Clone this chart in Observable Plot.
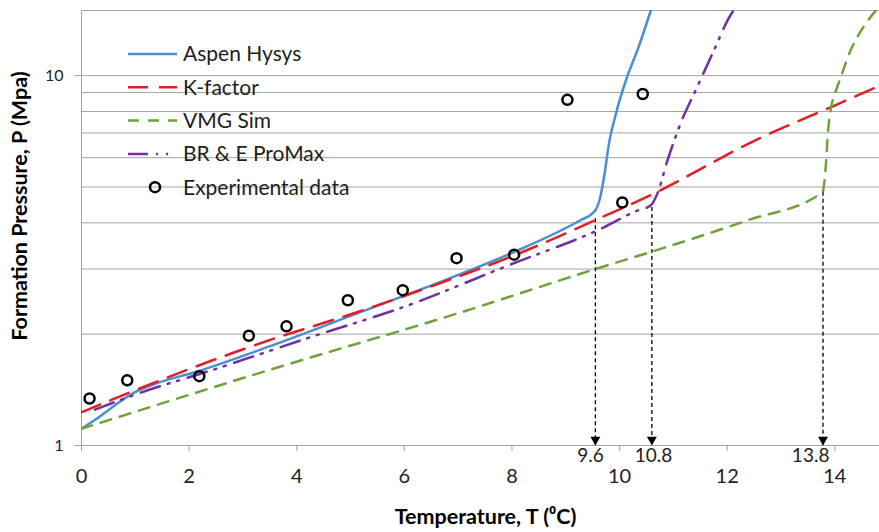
<!DOCTYPE html>
<html>
<head>
<meta charset="utf-8">
<script src="https://cdn.jsdelivr.net/npm/d3@7"></script>
<script src="https://cdn.jsdelivr.net/npm/@observablehq/plot@0.6"></script>
<style>
  body { margin: 0; background: #fff; }
  #chart { position: relative; width: 879px; height: 532px; font-family: Lato, "Open Sans", sans-serif; }
  #chart svg { display: block; }
  #legend { position: absolute; left: 0; top: 0; pointer-events: none; }
</style>
</head>
<body>
<div id="chart"></div>
<script>
// ---------- data ----------
const seriesNames = ["Aspen Hysys", "K-factor", "VMG Sim", "BR & E ProMax"];
const expName = "Experimental data";

const aspenT = [0, 0.24, 0.98, 1.38, 2.12, 3.61, 5.0, 7.05, 8.03, 9.28, 9.50, 9.58, 9.64, 9.72, 9.80, 9.93, 10.14, 10.33, 10.58];
const aspenP = [1.11, 1.17, 1.39, 1.47, 1.58, 1.88, 2.24, 2.91, 3.33, 4.07, 4.25, 4.40, 4.69, 5.42, 6.52, 7.87, 9.93, 11.7, 15];

const kfactorT = [0, 1.76, 3.46, 4.95, 7.05, 8.03, 9.52, 10.61, 12.6, 13.92, 14.83];
const kfactorP = [1.23, 1.56, 1.92, 2.25, 2.88, 3.26, 4.05, 4.78, 6.77, 8.21, 9.39];

const vmgT = [0, 3.61, 7.05, 9.55, 10.76, 12.37, 13.77, 13.83, 13.87, 13.92, 14.01, 14.11, 14.29, 14.45, 14.76];
const vmgP = [1.11, 1.62, 2.29, 3.0, 3.40, 4.06, 4.84, 5.65, 6.96, 8.04, 9.0, 9.9, 11.68, 12.95, 15];

const promaxT = [0.25, 1.04, 2.43, 4.29, 6.06, 7.91, 9.71, 10.3, 10.58, 10.70, 10.89, 11.13, 11.44, 11.75, 12.09, 12.12];
const promaxP = [1.25, 1.38, 1.60, 1.97, 2.39, 3.06, 3.89, 4.30, 4.46, 4.79, 5.9, 7.4, 9.3, 11.68, 14.8, 15];

const expT = [0.15, 0.85, 2.19, 3.11, 3.81, 4.95, 5.97, 6.97, 8.04, 9.03, 10.05, 10.43];
const expP = [1.34, 1.50, 1.54, 1.98, 2.10, 2.47, 2.63, 3.21, 3.28, 8.6, 4.54, 8.92];

// vertical arrows marking the hydrate onset temperatures, and where their labels sit
const arrowT = [9.55, 10.6, 13.78];
const arrowTopP = [4.1, 4.4, 4.84];
const arrowLabels = ["9.6", "10.8", "13.8"];
const arrowLabelT = [9.46, 10.63, 13.55];

const xTicks = [0, 2, 4, 6, 8, 10, 12, 14];
const yTicks = [1, 10];
const gridP = [1, 2, 3, 4, 5, 6, 7, 8, 9, 10, 15];
const xDomain = [0, 14.83];
const yDomain = [1, 15];
const xLabel = "Temperature, T (⁰C)";
const yLabel = "Formation Pressure, P (Mpa)";

// ---------- styles ----------
const styles = {
  "Aspen Hysys":   { stroke: "#4a8fd4", dash: null },
  "K-factor":      { stroke: "#e41e26", dash: "20,11" },
  "VMG Sim":       { stroke: "#6fa23a", dash: "11,9" },
  "BR & E ProMax": { stroke: "#7030a0", dash: "20,8,2,8,2,9" }
};
const gridColor = "#a3a3a3";
const textColor = "#1e1e1e";

// ---------- build tables ----------
const curves = [[aspenT, aspenP], [kfactorT, kfactorP], [vmgT, vmgP], [promaxT, promaxP]]
  .map(([T, P], i) => ({ name: seriesNames[i], rows: T.map((t, j) => ({ T: t, P: P[j] })) }));
const expRows = expT.map((t, i) => ({ T: t, P: expP[i] }));
const arrows = arrowT.map((t, i) => ({ T: t, top: arrowTopP[i], label: arrowLabels[i], labelT: arrowLabelT[i] }));
const yBase = yDomain[0];

const plot = Plot.plot({
  width: 879,
  height: 532,
  marginLeft: 81,
  marginRight: 0,
  marginTop: 10,
  marginBottom: 87,
  style: { fontFamily: "Lato, 'Open Sans', sans-serif", background: "#fff", color: textColor, overflow: "visible" },
  x: { domain: xDomain },
  y: { type: "log", domain: yDomain },
  marks: [
    Plot.ruleY(gridP, { stroke: gridColor, strokeWidth: 1 }),
    Plot.ruleX([xDomain[0]], { stroke: gridColor, strokeWidth: 1 }),
    Plot.axisX({ ticks: xTicks, tickSize: 6, tickPadding: 17, fontSize: 20, stroke: gridColor, fill: textColor, label: null }),
    Plot.axisY({ ticks: yTicks, tickFormat: d => String(d), tickSize: 7, tickPadding: 11, fontSize: 16, stroke: gridColor, fill: textColor, label: null }),
    ...curves.map(c => Plot.line(c.rows, {
      x: "T", y: "P",
      stroke: styles[c.name].stroke,
      strokeWidth: 2.5,
      strokeDasharray: styles[c.name].dash,
      curve: "monotone-x",
      clip: true
    })),
    Plot.ruleX(arrows, { x: "T", y1: "top", y2: () => yBase, stroke: "#000", strokeWidth: 1.3, strokeDasharray: "4,3" }),
    Plot.dot(arrows, { x: "T", y: () => yBase, symbol: "triangle", rotate: 180, r: 3.7, fill: "#000", stroke: "none", dy: -5.8 }),
    Plot.text(arrows, { x: "labelT", frameAnchor: "bottom", lineAnchor: "middle", textAnchor: "middle", dy: 10, text: "label", fontSize: 19, fill: textColor }),
    Plot.dot(expRows, { x: "T", y: "P", r: 5, stroke: "#000", strokeWidth: 2.5, fill: "none" }),
    Plot.text([xLabel], { frameAnchor: "bottom", lineAnchor: "middle", textAnchor: "middle", dy: 72, dx: 5, text: d => d, fontWeight: "bold", fontSize: 21.5, fill: "#000" }),
    Plot.text([yLabel], { frameAnchor: "left", lineAnchor: "middle", textAnchor: "middle", dx: -61, dy: -22, rotate: -90, text: d => d, fontWeight: "bold", fontSize: 21.5, fill: "#000" })
  ]
});
document.getElementById("chart").appendChild(plot);

// ---------- legend (overlay, inside the plot area, no background) ----------
const legend = d3.select("#chart").append("svg")
  .attr("id", "legend").attr("width", 879).attr("height", 532);
const legendItems = [...seriesNames, expName];
legendItems.forEach((name, i) => {
  const y = 54 + i * 33.3;
  const g = legend.append("g");
  if (styles[name]) {
    g.append("line").attr("x1", 128).attr("x2", 177).attr("y1", y).attr("y2", y)
      .attr("stroke", styles[name].stroke).attr("stroke-width", 2.5)
      .attr("stroke-dasharray", styles[name].dash);
  } else {
    g.append("circle").attr("cx", 155).attr("cy", y).attr("r", 5)
      .attr("fill", "none").attr("stroke", "#000").attr("stroke-width", 2.5);
  }
  g.append("text").attr("x", 183).attr("y", y).attr("dy", "0.35em")
    .attr("font-family", "Lato, 'Open Sans', sans-serif").attr("font-size", 21)
    .attr("fill", textColor).text(name);
});
</script>
</body>
</html>
